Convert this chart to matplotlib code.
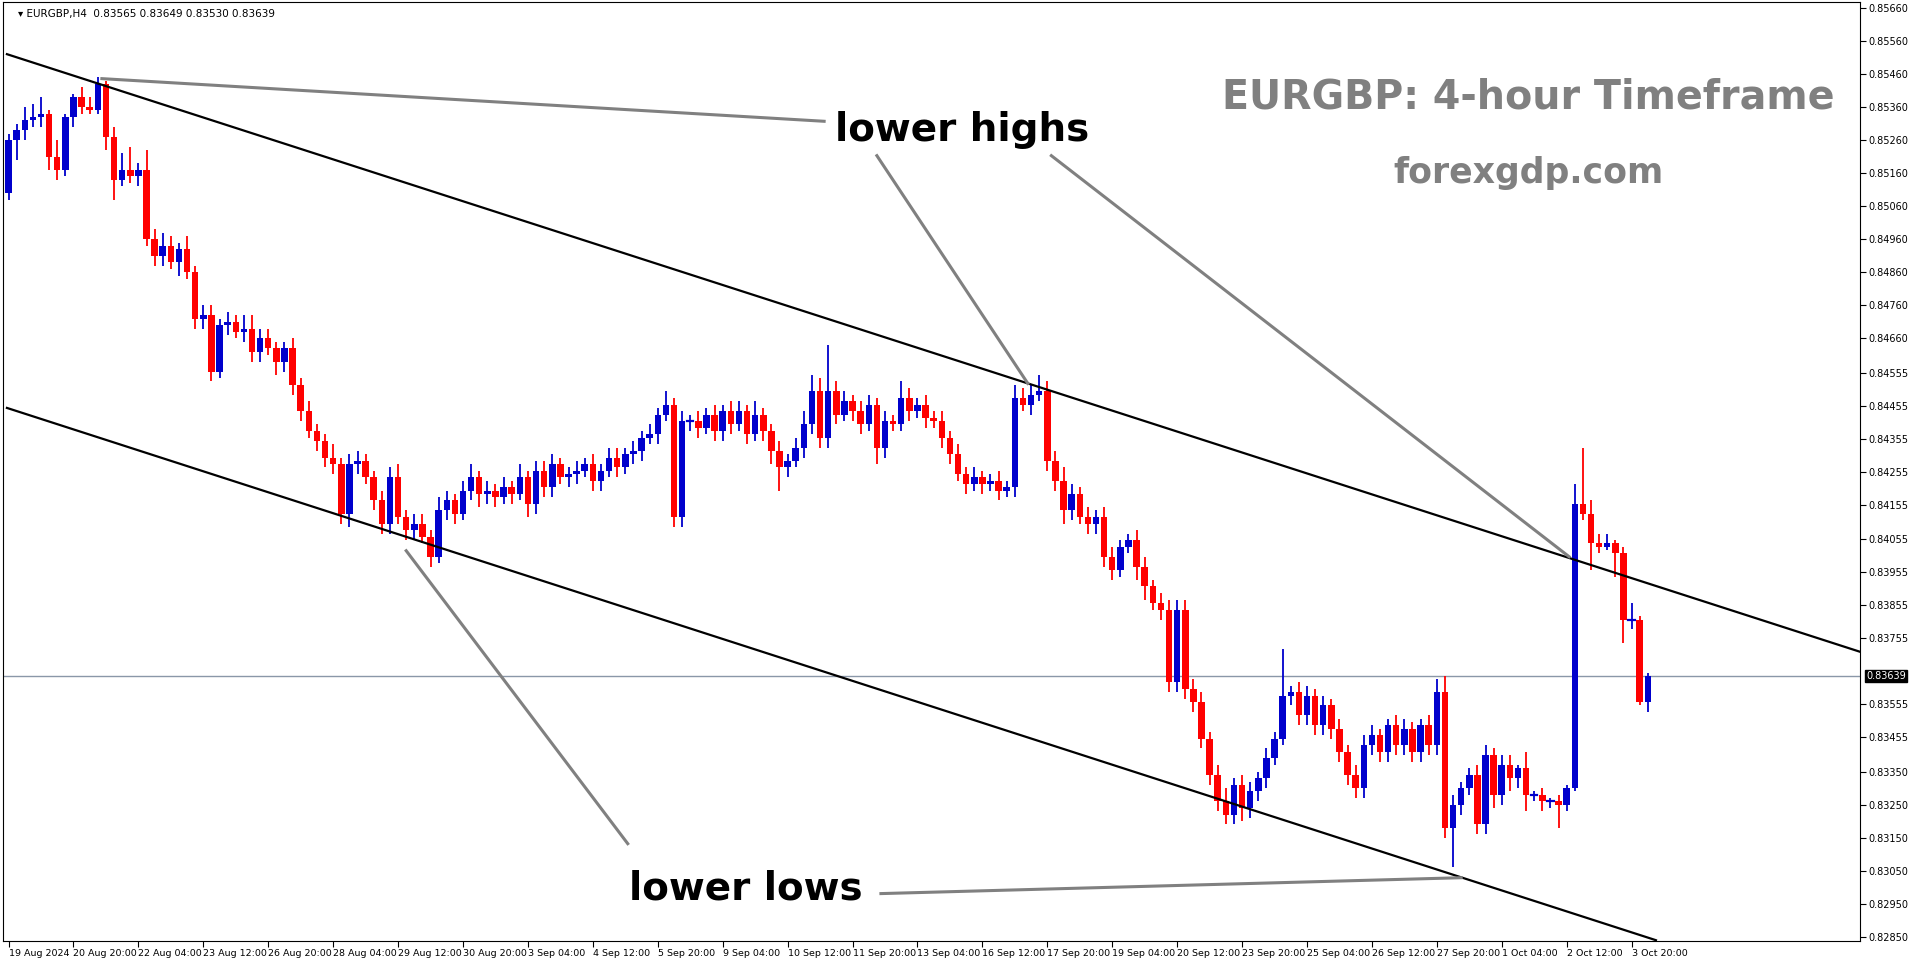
import matplotlib
matplotlib.use("Agg")
import matplotlib.pyplot as plt
from matplotlib.patches import Rectangle

first_open = 0.8510
closes = [
0.8526,0.8529,0.8532,0.8533,0.8534,0.8521,0.8517,0.8533,0.8539,0.8536,
0.8535,0.8543,0.8527,0.8514,0.8517,0.8515,0.8517,0.8496,0.8491,0.8494,
0.8489,0.8493,0.8486,0.8472,0.8473,0.8456,0.8470,0.8471,0.8468,0.8469,
0.8462,0.8466,0.8463,0.8459,0.8463,0.8452,0.8444,0.8438,0.8435,0.8430,
0.8428,0.8413,0.8428,0.8429,0.8424,0.8417,0.8410,0.8424,0.8412,0.8408,
0.8410,0.8406,0.8400,0.8414,0.8417,0.8413,0.8420,0.8424,0.8419,0.8420,
0.8418,0.8421,0.8419,0.8424,0.8416,0.8426,0.8421,0.8428,0.8424,0.8425,
0.8426,0.8428,0.8423,0.8426,0.8430,0.8427,0.8431,0.8432,0.8436,0.8437,
0.8443,0.8446,0.8412,0.8441,0.8441,0.8439,0.8443,0.8438,0.8444,0.8440,
0.8444,0.8437,0.8443,0.8438,0.8432,0.8427,0.8429,0.8433,0.8440,0.8450,
0.8436,0.8450,0.8443,0.8447,0.8444,0.8440,0.8446,0.8433,0.8441,0.8440,
0.8448,0.8444,0.8446,0.8442,0.8441,0.8436,0.8431,0.8425,0.8422,0.8424,
0.8422,0.8423,0.8420,0.8421,0.8448,0.8446,0.8449,0.8450,0.8429,0.8423,
0.8414,0.8419,0.8412,0.8410,0.8412,0.8400,0.8396,0.8403,0.8405,0.8397,
0.8391,0.8386,0.8384,0.8362,0.8384,0.8360,0.8356,0.8345,0.8334,0.8326,
0.8322,0.8331,0.8324,0.8329,0.8333,0.8339,0.8345,0.8358,0.8359,0.8352,
0.8358,0.8349,0.8355,0.8348,0.8341,0.8334,0.8330,0.8343,0.8346,0.8341,
0.8349,0.8343,0.8348,0.8341,0.8349,0.8343,0.8359,0.8318,0.8325,0.8330,
0.8334,0.8319,0.8340,0.8328,0.8337,0.8333,0.8336,0.8328,0.8328,0.8326,
0.8326,0.8325,0.8330,0.8416,0.8413,0.8404,0.8403,0.8404,0.8401,0.8381,
0.8381,0.8356,0.83639]

# wick extensions in pips (upper / lower)
wick_up = [int(v) for v in (
"2 2 4 4 5 1 5 1 1 3 3 2 1 3 5 7 2 6 3 4 "
"3 2 4 2 3 3 2 3 2 4 4 3 3 2 2 3 2 3 2 2 "
"4 2 3 3 2 2 3 3 4 2 3 3 2 4 3 2 3 4 2 3 "
"2 3 2 4 2 3 3 3 2 2 3 2 3 2 3 3 2 3 2 3 "
"2 4 2 3 2 3 2 3 2 3 3 2 4 2 2 3 2 3 4 5 "
"4 14 3 3 2 3 3 2 3 2 5 3 2 3 2 3 2 3 2 3 "
"2 2 3 2 4 3 3 5 3 3 4 3 2 3 2 3 3 2 2 3 "
"3 2 3 3 3 3 3 3 2 3 4 2 3 3 2 3 2 14 2 3 "
"3 2 3 2 3 2 3 3 3 2 2 3 3 2 2 3 4 5 3 2 "
"2 3 3 2 3 3 1 5 1 2 1 2 1 6 17 4 3 3 1 2 5 1 1").split()]
wick_dn = [int(v) for v in (
"2 6 3 2 3 4 3 2 3 2 1 1 4 6 2 2 3 2 3 3 "
"2 4 2 3 3 3 2 3 2 3 3 3 2 4 3 3 3 2 3 3 "
"3 3 4 3 2 3 3 3 2 3 3 2 3 2 3 3 2 3 4 3 "
"3 2 3 2 4 3 3 3 2 3 3 2 3 3 2 3 2 3 3 2 "
"3 2 3 3 3 3 2 3 3 3 2 3 2 3 4 7 3 2 3 3 "
"3 3 3 2 3 3 2 5 3 2 2 3 2 3 2 3 3 2 3 2 "
"3 2 3 2 3 2 3 2 3 3 4 3 2 3 3 3 3 2 2 4 "
"4 2 3 3 3 3 3 3 3 3 3 3 4 3 3 3 2 2 3 3 "
"3 3 3 3 3 3 3 3 3 3 3 3 3 3 3 3 3 3 12 3 "
"2 3 3 4 3 4 3 5 2 3 2 7 2 1 2 8 2 1 7 7 3 1 3").split()]

xlabels = ["19 Aug 2024","20 Aug 20:00","22 Aug 04:00","23 Aug 12:00","26 Aug 20:00",
"28 Aug 04:00","29 Aug 12:00","30 Aug 20:00","3 Sep 04:00","4 Sep 12:00","5 Sep 20:00",
"9 Sep 04:00","10 Sep 12:00","11 Sep 20:00","13 Sep 04:00","16 Sep 12:00","17 Sep 20:00",
"19 Sep 04:00","20 Sep 12:00","23 Sep 20:00","25 Sep 04:00","26 Sep 12:00","27 Sep 20:00",
"1 Oct 04:00","2 Oct 12:00","3 Oct 20:00"]
yticks = [0.85660,0.85560,0.85460,0.85360,0.85260,0.85160,0.85060,0.84960,0.84860,0.84760,
0.84660,0.84555,0.84455,0.84355,0.84255,0.84155,0.84055,0.83955,0.83855,0.83755,
0.83555,0.83455,0.83350,0.83250,0.83150,0.83050,0.82950,0.82850]
last_price = 0.83639
upper_line = [(-0.2, 0.8552), (228.2, 0.83712)]
lower_line = [(-0.2, 0.8445), (203.0, 0.8284)]

opens = [first_open] + closes[:-1]
highs = [max(o, c) + u * 1e-4 for o, c, u in zip(opens, closes, wick_up)]
lows = [min(o, c) - d * 1e-4 for o, c, d in zip(opens, closes, wick_dn)]

fig = plt.figure(figsize=(19.16, 9.64), dpi=100)
ax = fig.add_axes([0.0015, 0.024, 0.9695, 0.974])
ax.set_xlim(-0.7, 228.2)
ax.set_ylim(0.82838, 0.85678)

for i, (o, h, l, c) in enumerate(zip(opens, highs, lows, closes)):
    col = '#0000cc' if c >= o else '#ff0000'
    ax.plot([i, i], [l, h], color=col, lw=1.3, solid_capstyle='butt', zorder=3)
    bot, top = min(o, c), max(o, c)
    if top - bot < 0.00003:
        ax.plot([i - 0.4, i + 0.4], [c, c], color=col, lw=1.6, zorder=3)
    else:
        ax.add_patch(Rectangle((i - 0.4, bot), 0.8, top - bot, color=col, lw=0, zorder=3))

for ln in (upper_line, lower_line):
    ax.plot([ln[0][0], ln[1][0]], [ln[0][1], ln[1][1]], color='black', lw=1.6, zorder=4)

ax.axhline(last_price, color='#8a97a8', lw=1, zorder=2)

gray = '#808080'
ann = dict(color=gray, lw=2.2, zorder=5)
ax.plot([11.5, 100.5], [0.85446, 0.85317], **ann)
ax.plot([107, 125.6], [0.85213, 0.84524], **ann)
ax.plot([128.5, 192.3], [0.85213, 0.84000], **ann)
ax.plot([49, 76.3], [0.84018, 0.83132], **ann)
ax.plot([107.5, 179], [0.82981, 0.83029], **ann)

ax.text(101.8, 0.8529, "lower highs", fontsize=28, fontweight='bold', va='center', ha='left', zorder=6)
ax.text(76.5, 0.82996, "lower lows", fontsize=28, fontweight='bold', va='center', ha='left', zorder=6)
ax.text(187.3, 0.8539, "EURGBP: 4-hour Timeframe", fontsize=28.5, fontweight='bold', color=gray, ha='center', va='center')
ax.text(187.3, 0.8516, "forexgdp.com", fontsize=25, fontweight='bold', color=gray, ha='center', va='center')
ax.text(0.008, 0.993, "\u25BE EURGBP,H4  0.83565 0.83649 0.83530 0.83639", transform=ax.transAxes,
        fontsize=7.5, va='top', ha='left')

ax.yaxis.tick_right()
ax.set_yticks(yticks)
ax.set_yticklabels([f"{v:.5f}" for v in yticks], fontsize=7)
ax.set_xticks([8 * k for k in range(len(xlabels))])
ax.set_xticklabels(xlabels, fontsize=6.8, ha='left')
ax.tick_params(axis='both', length=4, width=0.8, pad=2)
for s in ax.spines.values():
    s.set_linewidth(0.8)

ax.text(1.003, last_price, f"{last_price:.5f}", transform=ax.get_yaxis_transform(), fontsize=7,
        color='white', va='center', ha='left', bbox=dict(facecolor='black', edgecolor='black', pad=1.0), zorder=10, clip_on=False)

fig.savefig("out.png", dpi=100, facecolor='white')
